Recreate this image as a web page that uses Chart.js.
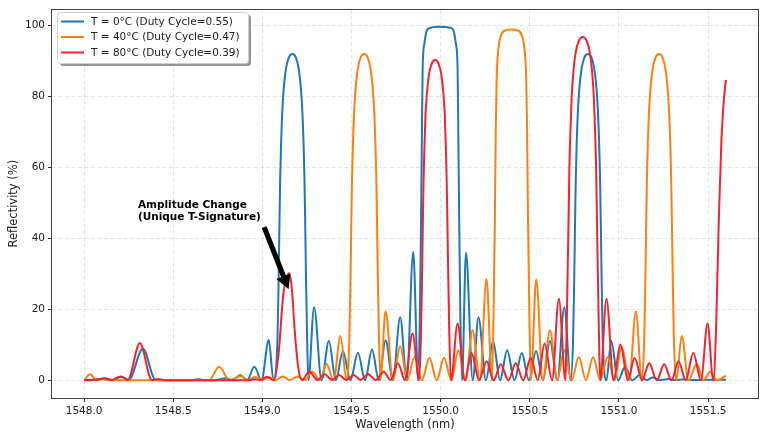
<!DOCTYPE html>
<html>
<head>
<meta charset="utf-8">
<script src="https://cdn.jsdelivr.net/npm/chart.js@4.4.0/dist/chart.umd.min.js"></script>
<style>
    html, body { margin: 0; padding: 0; background: #fff; }
</style>
</head>
<body>
<canvas id="myChart" width="764" height="436"></canvas>
<script>
// values (wavelength in nm, reflectivity in %)
let wlBlue = [1548.00, 1548.06, 1548.12, 1548.16, 1548.21, 1548.25, 1548.33, 1548.40, 1548.45, 1548.60,
    1548.64, 1548.68, 1548.745, 1548.79, 1548.835, 1548.875, 1548.915, 1548.955, 1548.995, 1549.036,
    1549.062, 1549.085, 1549.091, 1549.096, 1549.100, 1549.105, 1549.112, 1549.121, 1549.133, 1549.148,
    1549.168, 1549.188, 1549.203, 1549.215, 1549.224, 1549.231, 1549.236, 1549.240, 1549.245, 1549.251, 1549.258,
    1549.29, 1549.332, 1549.373, 1549.412, 1549.452, 1549.494, 1549.536, 1549.576, 1549.615, 1549.653,
    1549.691, 1549.732, 1549.773, 1549.81, 1549.846,
    1549.874, 1549.884, 1549.89, 1549.895, 1549.899, 1549.909, 1549.922, 1549.942, 1549.997, 1550.052,
    1550.072, 1550.085, 1550.095, 1550.099, 1550.104, 1550.11, 1550.12,
    1550.142, 1550.18, 1550.212, 1550.254, 1550.294, 1550.333, 1550.373, 1550.414, 1550.455, 1550.495,
    1550.535, 1550.574, 1550.613, 1550.655, 1550.693,
    1550.73, 1550.743, 1550.749, 1550.754, 1550.758, 1550.763, 1550.77, 1550.779, 1550.791, 1550.806,
    1550.826, 1550.846, 1550.861, 1550.873, 1550.882, 1550.889, 1550.894, 1550.898, 1550.903, 1550.909, 1550.93,
    1550.957, 1550.995, 1551.035, 1551.075, 1551.117, 1551.155, 1551.19, 1551.23, 1551.277, 1551.32,
    1551.36, 1551.40, 1551.60];
let rBlue = [0, 0.1, 0.6, 0.1, 1.0, 0.1, 8.9, 0.1, 0, 0,
    0.3, 0, 0.1, 0.6, 0.05, 1.5, 0.05, 3.8, 0.05, 11.4,
    0, 12, 28, 45, 57, 67, 76, 83, 88, 91,
    92, 91, 88, 83, 76, 67, 57, 45, 28, 12, 0,
    20.6, 0, 11.1, 0, 8.2, 0, 7.8, 0, 8.7, 0,
    11.3, 0, 17.8, 0, 36.2,
    0, 20, 45, 70, 88, 95, 98.6, 99.4, 99.7, 99.4,
    98.6, 95, 88, 70, 45, 20, 0,
    36, 0, 17.8, 0, 11.1, 0, 8.5, 0, 7.7, 0,
    8.3, 0, 11.1, 0, 20.6,
    0, 12, 28, 45, 57, 67, 76, 83, 88, 91,
    92, 91, 88, 83, 76, 67, 57, 45, 28, 12, 0,
    11.1, 0, 3.8, 0, 1.5, 0.05, 0.8, 0.05, 0.4, 0.05,
    0.3, 0.1, 0.2];

let wlOrange = [1548.00, 1548.034, 1548.07, 1548.105, 1548.15, 1548.70, 1548.758, 1548.815, 1548.879, 1548.92,
    1548.959, 1549.0, 1549.04, 1549.075, 1549.114, 1549.155, 1549.198, 1549.24, 1549.28, 1549.322,
    1549.36, 1549.40, 1549.438,
    1549.472, 1549.488, 1549.494, 1549.499, 1549.503, 1549.508, 1549.515, 1549.524, 1549.536, 1549.551,
    1549.571, 1549.591, 1549.606, 1549.618, 1549.627, 1549.634, 1549.639, 1549.643, 1549.648, 1549.654, 1549.662,
    1549.691, 1549.732, 1549.773, 1549.813, 1549.853, 1549.895, 1549.937, 1549.978, 1550.019, 1550.06,
    1550.099, 1550.14, 1550.179, 1550.22, 1550.257,
    1550.288, 1550.297, 1550.304, 1550.309, 1550.314, 1550.323, 1550.337, 1550.36, 1550.397, 1550.434,
    1550.457, 1550.471, 1550.48, 1550.485, 1550.49, 1550.497, 1550.506,
    1550.536, 1550.573, 1550.613, 1550.654, 1550.693, 1550.735, 1550.775, 1550.815, 1550.855, 1550.895,
    1550.937, 1550.975, 1551.015, 1551.058, 1551.095,
    1551.128, 1551.142, 1551.148, 1551.153, 1551.157, 1551.162, 1551.169, 1551.178, 1551.19, 1551.205,
    1551.225, 1551.245, 1551.26, 1551.272, 1551.281, 1551.288, 1551.293, 1551.297, 1551.302, 1551.308, 1551.322,
    1551.352, 1551.39, 1551.436, 1551.475, 1551.512, 1551.55, 1551.60];
let rOrange = [0, 1.7, 0, 0.3, 0, 0, 3.8, 0.1, 1.2, 0.1,
    1.0, 0.1, 0.9, 0.1, 1.1, 0.1, 1.1, 0.1, 2.5, 0.1,
    4.6, 0, 12.5,
    0, 12, 28, 45, 57, 67, 76, 83, 88, 91,
    92, 91, 88, 83, 76, 67, 57, 45, 28, 12, 0,
    19.5, 0, 9.6, 0, 6.6, 0, 6.4, 0, 6.4, 0,
    8.5, 0, 14.1, 0, 28.6,
    0, 20, 45, 70, 85, 93, 97, 98.6, 98.9, 98.6,
    97, 93, 85, 70, 45, 20, 0,
    28.4, 0, 14.1, 0, 8.5, 0, 6.6, 0, 6.6, 0,
    6.6, 0, 9.6, 0, 19.5,
    0, 12, 28, 45, 57, 67, 76, 83, 88, 91,
    92, 91, 88, 83, 76, 67, 57, 45, 28, 12, 0,
    12.5, 0, 4.6, 0, 2.4, 0, 1.3];

let wlRed = [1548.00, 1548.06, 1548.112, 1548.155, 1548.205, 1548.245, 1548.313, 1548.38, 1548.415, 1548.46,
    1548.92, 1548.96, 1548.99, 1549.025, 1549.063, 1549.09, 1549.117, 1549.15, 1549.165, 1549.18,
    1549.2, 1549.222, 1549.263, 1549.31, 1549.35, 1549.39, 1549.43, 1549.47, 1549.512, 1549.552,
    1549.592, 1549.635, 1549.68, 1549.72, 1549.76, 1549.80, 1549.842,
    1549.88, 1549.889, 1549.895, 1549.9, 1549.904, 1549.909, 1549.915, 1549.924, 1549.935, 1549.95,
    1549.969, 1549.988, 1550.003, 1550.014, 1550.023, 1550.029, 1550.034, 1550.038, 1550.043, 1550.049, 1550.058,
    1550.095, 1550.135, 1550.173, 1550.215, 1550.257, 1550.297, 1550.337, 1550.38, 1550.421, 1550.463,
    1550.505, 1550.545, 1550.583, 1550.625, 1550.663,
    1550.70, 1550.706, 1550.712, 1550.718, 1550.722, 1550.728, 1550.735, 1550.745, 1550.758, 1550.775,
    1550.797, 1550.819, 1550.836, 1550.849, 1550.859, 1550.866, 1550.872, 1550.876, 1550.882, 1550.888, 1550.895,
    1550.93, 1550.97, 1551.008, 1551.05, 1551.088, 1551.13, 1551.17, 1551.212, 1551.254, 1551.295,
    1551.334, 1551.375, 1551.417, 1551.46, 1551.497, 1551.529, 1551.545, 1551.56, 1551.575, 1551.59, 1551.60];
let rRed = [0, 0.2, 0.5, 0.1, 1.1, 0.1, 10.5, 0.1, 0.4, 0,
    0, 0.3, 0.1, 1.0, 0, 7, 24, 30.2, 26, 15,
    4, 0, 2.4, 0.1, 1.7, 0.1, 1.5, 0.1, 1.5, 0.1,
    1.8, 0.1, 2.4, 0.1, 4.8, 0.1, 13.2,
    0, 12, 28, 44, 56, 66, 75, 81.5, 86.4, 89.3,
    90.3, 89.3, 86.4, 81.5, 75, 66, 56, 44, 28, 12, 0,
    16, 0, 7.7, 0, 5.4, 0, 4.5, 0, 4.8, 0,
    6.3, 0, 10.4, 0, 23,
    0, 12.6, 29.5, 47.3, 60, 70.5, 80, 87.3, 92.6, 95.7,
    96.8, 95.7, 92.6, 87.3, 80, 70.5, 60, 47.3, 29.5, 12.6, 0,
    23, 0, 10.1, 0, 6.3, 0, 4.8, 0, 4.5, 0,
    5.4, 0, 7.8, 0, 16, 0, 15, 45, 68, 80, 84.7];

let ticksX = [1548.0, 1548.5, 1549.0, 1549.5, 1550.0, 1550.5, 1551.0, 1551.5];
let ticksY = [0, 20, 40, 60, 80, 100];

let seriesNames = ['T = 0°C (Duty Cycle=0.55)', 'T = 40°C (Duty Cycle=0.47)', 'T = 80°C (Duty Cycle=0.39)'];
let seriesColors = ['#1f77b4', '#ff7f0e', '#f5222d'];

// annotation text and arrow (data coordinates)
let noteLines = ['Amplitude Change', '(Unique T-Signature)'];
let noteAt = {x: 1548.302, y: 49.4};
let arrowFrom = {x: 1549.01, y: 43.2};
let arrowTo = {x: 1549.147, y: 25.7};

function toPoints(wl, r) {
    return wl.map((w, i) => ({x: w, y: r[i]}));
}

Chart.defaults.font.family = "'DejaVu Sans', sans-serif";
Chart.defaults.color = '#222';

// frame, legend box and the arrow note, drawn over the plot
let overlay = {
    id: 'overlay',
    afterDraw(chart) {
        let c = chart.ctx;
        let a = chart.chartArea;
        let xs = chart.scales.x, ys = chart.scales.y;

        c.save();
        c.strokeStyle = '#444';
        c.lineWidth = 1;
        c.strokeRect(Math.round(a.left) - 0.5, Math.round(a.top) + 0.5,
            Math.round(a.right - a.left) + 1, Math.round(a.bottom - a.top));

        // note
        c.fillStyle = '#000';
        c.font = "bold 10.5px 'DejaVu Sans'";
        c.textAlign = 'left';
        c.textBaseline = 'middle';
        let tx = xs.getPixelForValue(noteAt.x);
        let ty = ys.getPixelForValue(noteAt.y);
        noteLines.forEach((t, i) => c.fillText(t, tx, ty + i * 12.6));

        // arrow
        let x0 = xs.getPixelForValue(arrowFrom.x), y0 = ys.getPixelForValue(arrowFrom.y);
        let x1 = xs.getPixelForValue(arrowTo.x), y1 = ys.getPixelForValue(arrowTo.y);
        let dx = x1 - x0, dy = y1 - y0;
        let len = Math.sqrt(dx * dx + dy * dy);
        let ux = dx / len, uy = dy / len;
        let nx = -uy, ny = ux;
        let headLen = 14, headW = 7.5, shaftW = 2.6;
        let bx = x1 - ux * headLen, by = y1 - uy * headLen;
        c.beginPath();
        c.moveTo(x0 + nx * shaftW, y0 + ny * shaftW);
        c.lineTo(bx + nx * shaftW, by + ny * shaftW);
        c.lineTo(bx + nx * headW, by + ny * headW);
        c.lineTo(x1, y1);
        c.lineTo(bx - nx * headW, by - ny * headW);
        c.lineTo(bx - nx * shaftW, by - ny * shaftW);
        c.lineTo(x0 - nx * shaftW, y0 - ny * shaftW);
        c.closePath();
        c.fill();

        // legend
        let lx = 57, ly = 12, lw = 191, lh = 51;
        c.fillStyle = 'rgba(0,0,0,0.42)';
        c.beginPath();
        c.roundRect(lx + 3, ly + 3, lw, lh, 3);
        c.fill();
        c.fillStyle = '#fff';
        c.strokeStyle = '#cfcfcf';
        c.beginPath();
        c.roundRect(lx + 0.5, ly + 0.5, lw, lh, 3);
        c.fill();
        c.stroke();
        c.font = "10.5px 'DejaVu Sans'";
        c.textBaseline = 'middle';
        seriesNames.forEach((name, i) => {
            let yy = 21.5 + i * 15.5;
            c.strokeStyle = seriesColors[i];
            c.lineWidth = 2;
            c.beginPath();
            c.moveTo(61, yy);
            c.lineTo(84, yy);
            c.stroke();
            c.fillStyle = '#222';
            c.fillText(name, 91, yy + 0.5);
        });
        c.restore();
    }
};

let wls = [wlBlue, wlOrange, wlRed];
let rs = [rBlue, rOrange, rRed];

let chart = new Chart('myChart', {
    type: 'line',
    data: {
        datasets: seriesNames.map((name, i) => ({
            label: name,
            data: toPoints(wls[i], rs[i]),
            borderColor: seriesColors[i],
            borderWidth: 2,
            pointRadius: 0,
            fill: false,
            cubicInterpolationMode: 'monotone',
            order: 3 - i
        }))
    },
    options: {
        responsive: false,
        animation: false,
        devicePixelRatio: 1,
        layout: {padding: {left: 0, top: 7, right: 6, bottom: 0}},
        plugins: {
            legend: {display: false},
            tooltip: {enabled: false}
        },
        scales: {
            x: {
                type: 'linear',
                min: 1547.82,
                max: 1551.78,
                afterBuildTicks: s => { s.ticks = ticksX.map(v => ({value: v})); },
                afterFit: s => { s.height = 38; },
                ticks: {
                    callback: v => Number(v).toFixed(1),
                    font: {size: 10.5},
                    color: '#222',
                    padding: 3,
                    maxRotation: 0,
                    autoSkip: false
                },
                grid: {color: 'rgba(0,0,0,0.13)', lineWidth: 0.8, tickColor: '#333', tickLength: 4, tickWidth: 1},
                border: {display: false, dash: [4, 2.5]},
                title: {display: true, text: 'Wavelength (nm)', font: {size: 11.5}, color: '#222', padding: {top: 0, bottom: 4}}
            },
            y: {
                type: 'linear',
                min: -4.98,
                max: 104.6,
                afterBuildTicks: s => { s.ticks = ticksY.map(v => ({value: v})); },
                afterFit: s => { s.width = 52; },
                ticks: {
                    font: {size: 10.5},
                    color: '#222',
                    padding: 3
                },
                grid: {color: 'rgba(0,0,0,0.13)', lineWidth: 0.8, tickColor: '#333', tickLength: 4, tickWidth: 1},
                border: {display: false, dash: [4, 2.5]},
                title: {display: true, text: 'Reflectivity (%)', font: {size: 11.5}, color: '#222', padding: {top: 7, bottom: 0}}
            }
        }
    },
    plugins: [overlay]
});
</script>
</body>
</html>
